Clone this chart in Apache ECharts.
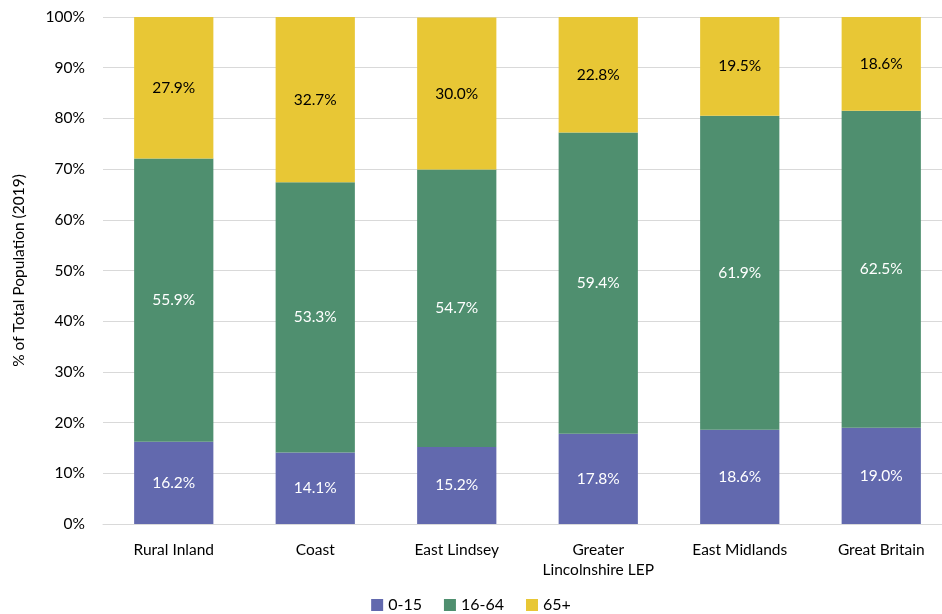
<!DOCTYPE html>
<html><head><meta charset="utf-8">
<script src="https://cdn.jsdelivr.net/npm/echarts@6/dist/echarts.min.js"></script>
<style>html,body{margin:0;padding:0;background:#fff}#c{width:942px;height:614px}</style>
</head><body><div id="c"></div>
<script>
const categories = ['Rural Inland','Coast','East Lindsey','Greater\nLincolnshire LEP','East Midlands','Great Britain'];
const age0_15 = [16.2,14.1,15.2,17.8,18.6,19.0];
const age16_64 = [55.9,53.3,54.7,59.4,61.9,62.5];
const age65 = [27.9,32.7,30.0,22.8,19.5,18.6];
const yTicks = [0,10,20,30,40,50,60,70,80,90,100];

const FONT = 'Lato, "Open Sans", sans-serif';
const chart = echarts.init(document.getElementById('c'));
function s(name, data, color, labelColor){
  return {name, type:'bar', stack:'t', data, barWidth:'56%',
    itemStyle:{color},
    label:{show:true, position:'inside', formatter:p=>p.value.toFixed(1)+'%', color:labelColor, fontSize:15.5, fontFamily:FONT},
  };
}
chart.setOption({
  animation:false,
  textStyle:{fontFamily:FONT},
  grid:{left:103, width:849, top:17, bottom:90, containLabel:false, outerBoundsMode:'none'},
  xAxis:{type:'category', data:categories,
    axisLine:{lineStyle:{color:'#d9d9d9'}}, axisTick:{show:false},
    axisLabel:{interval:0, color:'#000', fontSize:15.5, fontFamily:FONT, margin:16, lineHeight:20}},
  yAxis:{type:'value', min:0, max:100, interval:10,
    name:'% of Total Population (2019)', nameLocation:'middle', nameGap:76, nameRotate:90,
    nameTextStyle:{color:'#000', fontSize:15.5, fontFamily:FONT},
    axisLabel:{formatter:v=>v+'%', color:'#000', fontSize:15.5, fontFamily:FONT, margin:18},
    splitLine:{lineStyle:{color:'#d9d9d9'}}},
  legend:{bottom:-4, left:'center', itemWidth:12, itemHeight:12, itemGap:22, icon:'rect',
    textStyle:{fontSize:16, color:'#000', fontFamily:FONT},
    data:['0-15','16-64','65+']},
  series:[
    s('0-15', age0_15, '#6269AE', '#fff'),
    s('16-64', age16_64, '#4F8F6F', '#fff'),
    s('65+', age65, '#E8C735', '#000')
  ]
});
</script></body></html>
